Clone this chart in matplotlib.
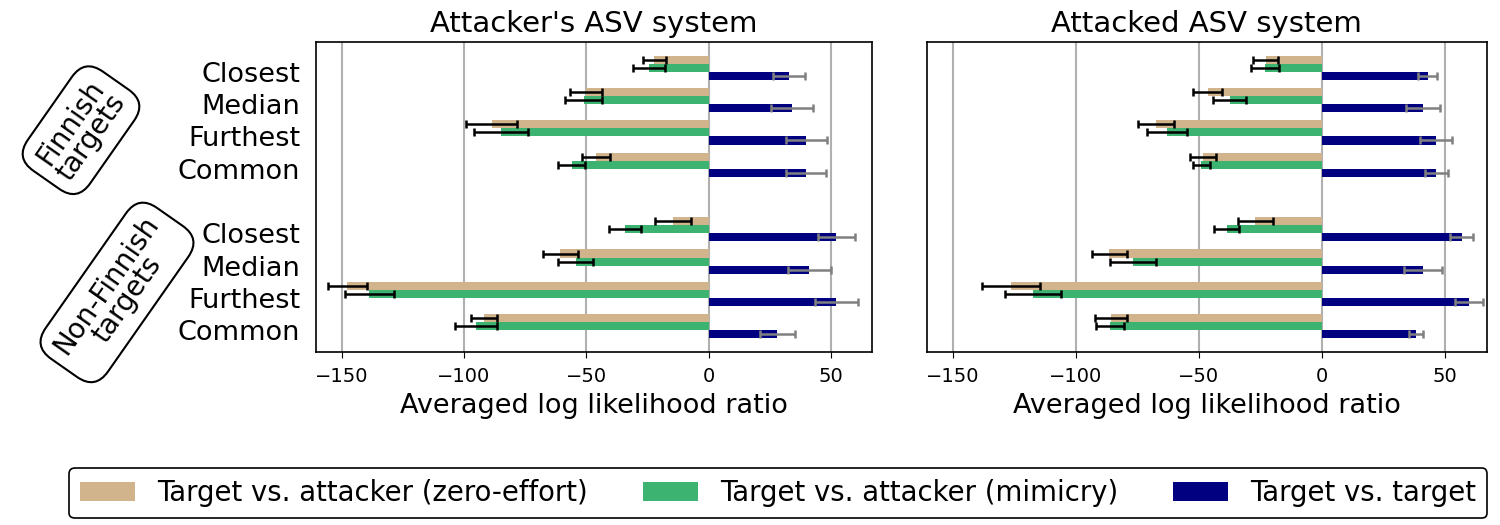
import numpy as np
import matplotlib
matplotlib.use("Agg")
import matplotlib.pyplot as plt
from matplotlib.patches import Patch
from matplotlib.transforms import ScaledTranslation

categories = ["Closest", "Median", "Furthest", "Common",
              "Closest", "Median", "Furthest", "Common"]
titles = ["Attacker's ASV system", "Attacked ASV system"]
series_names = ["Target vs. attacker (zero-effort)",
                "Target vs. attacker (mimicry)",
                "Target vs. target"]
group_labels = ["Finnish\ntargets", "Non-Finnish\ntargets"]

# Attacker's ASV system
att_zero = [-22.2, -50.2, -88.7, -46.2, -14.5, -60.6, -147.8, -91.8]
att_zero_err = [4.7, 6.6, 10.3, 5.7, 7.4, 7.2, 8.0, 5.4]
att_mim = [-24.3, -51.1, -84.9, -56.0, -34.2, -54.4, -138.7, -95.2]
att_mim_err = [6.5, 7.5, 10.9, 5.5, 6.7, 7.1, 10.0, 8.5]
att_tgt = [32.7, 33.9, 39.8, 39.8, 52.2, 41.2, 52.2, 28.0]
att_tgt_err = [6.5, 8.6, 8.4, 8.1, 7.5, 8.6, 8.9, 7.2]

# Attacked ASV system
atd_zero = [-22.9, -46.5, -67.5, -48.4, -27.2, -86.4, -126.3, -85.9]
atd_zero_err = [5.0, 5.8, 7.2, 5.4, 7.1, 7.2, 11.9, 6.5]
atd_mim = [-23.1, -37.6, -63.1, -49.0, -38.8, -76.8, -117.5, -86.2]
atd_mim_err = [5.8, 6.7, 8.1, 3.6, 5.2, 9.5, 11.5, 5.8]
atd_tgt = [42.9, 41.0, 46.2, 46.4, 56.8, 41.0, 59.7, 38.0]
atd_tgt_err = [3.9, 7.1, 6.5, 4.7, 4.7, 7.9, 5.8, 2.8]

colors = ["#D2B48C", "#3CB371", "#000080"]
err_colors = ["black", "black", "gray"]

panels = [
    (att_zero, att_zero_err, att_mim, att_mim_err, att_tgt, att_tgt_err),
    (atd_zero, atd_zero_err, atd_mim, atd_mim_err, atd_tgt, atd_tgt_err),
]

fig = plt.figure(figsize=(15, 5.25), dpi=100)
ax_rects = [[0.2107, 0.3295, 0.3707, 0.5905], [0.618, 0.3295, 0.373, 0.5905]]

ypos = np.array([0, 1, 2, 3, 5, 6, 7, 8], dtype=float)
h = 0.25
offsets = [-h, 0.0, h]

for i, (rect, data) in enumerate(zip(ax_rects, panels)):
    ax = fig.add_axes(rect)
    vals = [data[0], data[2], data[4]]
    errs = [data[1], data[3], data[5]]
    for k in range(3):
        ax.barh(ypos + offsets[k], vals[k], height=h, color=colors[k],
                xerr=errs[k], zorder=3,
                error_kw=dict(ecolor=err_colors[k], capsize=3, elinewidth=1.8,
                              capthick=1.8, zorder=4))
    ax.set_xlim(-160.5, 66.8)
    ax.set_ylim(8.8, -0.8)
    ax.set_xticks([-150, -100, -50, 0, 50])
    ax.grid(axis="x", color="#b0b0b0", linewidth=1.5, zorder=0)
    ax.set_axisbelow(True)
    ax.tick_params(axis="x", labelsize=14, length=4, pad=7)
    ax.set_xlabel("Averaged log likelihood ratio", fontsize=19.5, labelpad=5)
    ax.set_title(titles[i], fontsize=21, pad=7)
    ax.set_yticks(ypos)
    if i == 0:
        ax.set_yticklabels(categories, fontsize=19.5)
        ax.tick_params(axis="y", length=0, pad=11.5)
        shift = ScaledTranslation(0, -0.04, fig.dpi_scale_trans)
        for lab in ax.get_yticklabels():
            lab.set_transform(lab.get_transform() + shift)
    else:
        ax.set_yticklabels([])
        ax.tick_params(axis="y", length=0)
    for sp in ax.spines.values():
        sp.set_linewidth(1.2)

box = dict(boxstyle="round,pad=0.4,rounding_size=0.8", fc="white",
           ec="black", lw=1.5)
fig.text(0.054, 0.752, group_labels[0], rotation=55, fontsize=20,
         ha="center", va="center", bbox=box, linespacing=0.9)
fig.text(0.078, 0.443, group_labels[1], rotation=55, fontsize=20,
         ha="center", va="center", bbox=box, linespacing=0.9)

handles = [Patch(facecolor=c) for c in colors]
leg = fig.legend(handles, series_names, loc="lower center", ncol=3,
                 bbox_to_anchor=(0.5187, 0.013), borderaxespad=0,
                 fontsize=19.8, frameon=True, framealpha=1, edgecolor="black")
leg.get_frame().set_linewidth(1.2)

fig.savefig("out.png", dpi=100)
